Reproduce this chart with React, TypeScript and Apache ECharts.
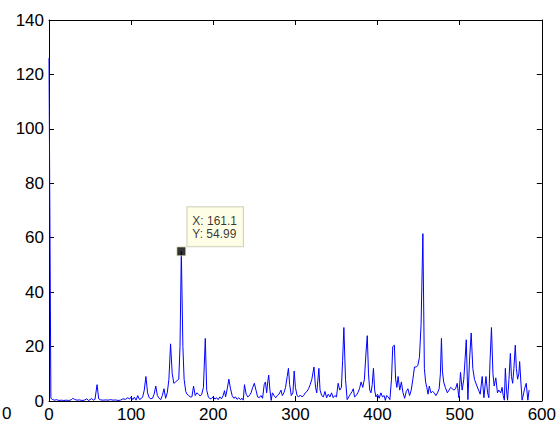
import React, { useEffect, useRef } from "react";
import * as echarts from "echarts";

const freq = [
  0, 2.3, 4.6, 7, 9, 12, 15, 18, 21, 24, 27, 29, 31, 34, 37, 40, 43, 46, 48, 50,
  52, 54, 56, 58.5, 60.5, 63, 66, 69, 72, 75, 78, 81, 84, 87, 90, 93, 96, 98, 100, 102,
  104, 106, 108, 110, 112, 114, 116, 118, 120, 122, 124, 126, 128, 130, 132, 134, 136, 138, 140, 142,
  144, 146, 148, 150, 152, 154, 156, 158, 159.5, 161.1, 163, 164.5, 166.5, 168, 170, 172, 174, 176, 178, 180,
  182, 184, 186, 188, 190.3, 192, 194, 196, 198, 200, 202, 204, 206, 208, 210, 212, 213.7, 215, 217, 219,
  221, 223, 225, 227, 229, 231, 233, 235, 236.5, 238, 240, 242, 244, 246, 248, 250, 252, 254, 256, 258,
  260, 262, 263.5, 265, 266.5, 267.5, 269, 270.5, 272, 274, 276, 278, 280, 282.5, 284, 286, 288, 290, 291.5, 293,
  295, 297, 298.5, 300, 302, 304, 306, 308, 310, 312, 314, 316, 318, 320, 322.6, 324.5, 326, 328.6, 330, 332,
  334, 336, 338, 340, 342, 344, 346, 348, 350, 352, 354, 356, 357.5, 359, 361, 363, 365, 367, 369, 370.5,
  372, 374, 376, 378, 380, 382, 384, 386, 387.5, 389, 390.5, 392, 393.5, 395, 396.5, 398, 400, 402, 404, 406,
  408, 409.5, 411, 413, 415, 417, 418.5, 420.5, 422, 423.5, 425, 427, 429, 431, 433, 435, 437, 439, 441, 443,
  445, 447, 449, 451, 453, 455.2, 457, 458.5, 460, 461.5, 463, 465, 467, 469, 471, 473, 475, 476.5, 477.8, 479,
  480.5, 482.5, 485, 487, 489, 491, 493, 495, 497, 499, 501, 503, 505, 506.5, 508, 510, 512, 514, 516, 518,
  521, 523, 525, 527.4, 529.5, 532, 534, 535.5, 537, 538.7, 540.5, 542, 544, 546, 547.6, 550, 551.6, 553, 554.4, 555.6,
  557, 558.3, 560, 561.7, 563, 564.5, 566, 567.7, 569, 570.5, 572, 573, 574.5, 576, 578, 579, 581, 583, 584.5,
];

const amp = [
  126, 1.0, 0.5, 0.3, 0.5, 0.2, 0.3, 0.2, 0.3, 0.2, 0.4, 1.0, 0.6, 0.3, 0.4, 0.2, 0.3, 0.8, 0.2, 0.5,
  0.9, 0.3, 0.6, 6.0, 0.8, 0.4, 0.3, 0.4, 0.3, 0.5, 0.3, 0.4, 0.2, 0.3, 0.8, 0.6, 1.2, 0.7, 1.5, 0.5,
  1.4, 0.3, 2.0, 0.6, 0.8, 1.5, 4.0, 9.0, 3.0, 1.2, 0.8, 1.0, 2.5, 5.5, 2.0, 1.0, 0.5, 2.0, 4.5, 1.0,
  3.0, 8.0, 21.0, 10.0, 6.5, 7.0, 7.5, 8.0, 20, 54.99, 20, 8.0, 3.5, 2.5, 2.0, 1.5, 1.5, 5.5, 2.0, 3.0,
  2.5, 1.8, 2.5, 5, 23.0, 4, 1.5, 0.8, 1.0, 1.5, 0.7, 1.2, 0.5, 1.5, 0.8, 2.0, 3.8, 1.5, 4.5, 8.0,
  4.5, 2.0, 1.0, 1.5, 0.6, 1.2, 0.5, 1.0, 0.3, 6.0, 2.5, 1.5, 2.0, 3.0, 5.0, 6.5, 4.0, 1.5, 1.2, 2.0,
  1.0, 6.0, 7.0, 3.0, 7.5, 9.5, 4.0, 0.2, 3.0, 2.0, 1.2, 2.0, 2.5, 4.0, 2.0, 3.0, 5.0, 9.0, 12.0, 6.0,
  2.0, 3.0, 11.0, 5.0, 2.0, 1.5, 2.2, 1.5, 2.0, 3.0, 3.5, 4.5, 6.0, 8.0, 12.5, 5.0, 3.0, 12.0, 4.0, 2.0,
  1.5, 3.5, 1.2, 2.5, 1.5, 3.0, 1.2, 2.0, 1.5, 6.5, 4.0, 5.0, 15, 27.0, 8.0, 0.5, 1.5, 2.5, 3.5, 4.5,
  1.5, 2.0, 3.0, 4.5, 7.0, 5.0, 8.0, 18, 24.0, 10, 4.0, 3.0, 6.0, 12.0, 4.0, 1.5, 2.5, 1.0, 3.0, 1.5,
  2.0, 0.2, 2.0, 1.5, 0.5, 8.0, 20.0, 20.5, 8.0, 5.0, 9.0, 4.0, 7.0, 3.0, 1.0, 3.5, 4.5, 2.0, 4.0, 8.0,
  12.5, 12.5, 13.0, 16, 28, 61.5, 12, 7.0, 5.0, 2.5, 5.5, 3.0, 3.5, 3.0, 2.0, 3.0, 4.5, 10, 23.0, 11,
  7.0, 5.0, 3.0, 4.0, 5.0, 4.5, 4.0, 4.5, 6.5, 1.2, 10.5, 4.0, 8.0, 15, 22.5, 0.5, 15, 25.0, 12, 8.0,
  5.5, 4.0, 2.5, 9.0, 1.2, 9.0, 3.0, 1.2, 15, 27.0, 10, 5.5, 8.5, 3.0, 4.0, 3.0, 5.0, 2.0, 0.3, 12.0,
  4.0, 0.3, 8, 17.5, 9, 6.5, 12, 20.5, 12, 8.0, 10, 14.5, 7, 0.3, 3.0, 4.5, 6.5, 0.3, 4.0,
];

const xTicks = [0, 100, 200, 300, 400, 500, 600];
const yTicks = [0, 20, 40, 60, 80, 100, 120, 140];
const tipPoint = [161.1, 54.99];
const tipLines = ["X: 161.1", "Y: 54.99"];

export default function App() {
  const ref = useRef<HTMLDivElement>(null);
  useEffect(() => {
    if (!ref.current) return;
    const chart = echarts.init(ref.current, null, { renderer: "svg" });
    const font = "'Liberation Sans', Arial, Helvetica, sans-serif";
    const line = { show: true, onZero: false, lineStyle: { color: "#000", width: 1 } };
    const tick = { show: true, inside: true, length: 5, lineStyle: { color: "#000", width: 1 } };
    const xMin = xTicks[0];
    const xMax = xTicks[xTicks.length - 1];
    const yMin = yTicks[0];
    const yMax = yTicks[yTicks.length - 1];
    chart.setOption({
      animation: false,
      backgroundColor: "#fff",
      grid: { left: 49, right: 15, top: 20, bottom: 23, show: false },
      xAxis: [
        {
          type: "value", min: xMin, max: xMax, interval: 100, position: "bottom",
          axisLine: line, axisTick: tick,
          axisLabel: { color: "#000", fontSize: 17, fontFamily: font, margin: 5 },
          splitLine: { show: false },
        },
        {
          type: "value", min: xMin, max: xMax, interval: 100, position: "top",
          axisLine: line, axisTick: tick, axisLabel: { show: false },
          splitLine: { show: false },
        },
      ],
      yAxis: [
        {
          type: "value", min: yMin, max: yMax, interval: 20, position: "left",
          axisLine: line, axisTick: tick,
          axisLabel: { color: "#000", fontSize: 17, fontFamily: font, margin: 5 },
          splitLine: { show: false },
        },
        {
          type: "value", min: yMin, max: yMax, interval: 20, position: "right",
          axisLine: line, axisTick: tick, axisLabel: { show: false },
          splitLine: { show: false },
        },
      ],
      series: [
        {
          type: "line",
          data: freq.map((f, i) => [f, amp[i]]),
          showSymbol: false,
          symbol: "none",
          lineStyle: { color: "#0000ff", width: 1 },
          itemStyle: { color: "#0000ff" },
          z: 2,
        },
        {
          type: "scatter",
          data: [tipPoint],
          symbol: "rect",
          symbolSize: 9,
          itemStyle: { color: "#000", borderColor: "#f0f0c8", borderWidth: 1 },
          z: 5,
          label: {
            show: true,
            formatter: tipLines.join("\n"),
            position: [11, -39],
            align: "left",
            verticalAlign: "top",
            fontSize: 12,
            lineHeight: 13,
            fontFamily: font,
            color: "#000",
            backgroundColor: "#ffffe1",
            borderColor: "#c8c8b4",
            borderWidth: 1,
            padding: [7, 6, 6, 5],
          },
        },
      ],
      graphic: [
        {
          type: "text",
          left: 2,
          top: 405,
          style: { text: "0", fontSize: 17, fontFamily: font, fill: "#000" },
        },
      ],
    });
    return () => chart.dispose();
  }, []);
  return (
    <div
      ref={ref}
      style={{ position: "fixed", left: 0, top: 0, width: 559, height: 424 }}
    />
  );
}
